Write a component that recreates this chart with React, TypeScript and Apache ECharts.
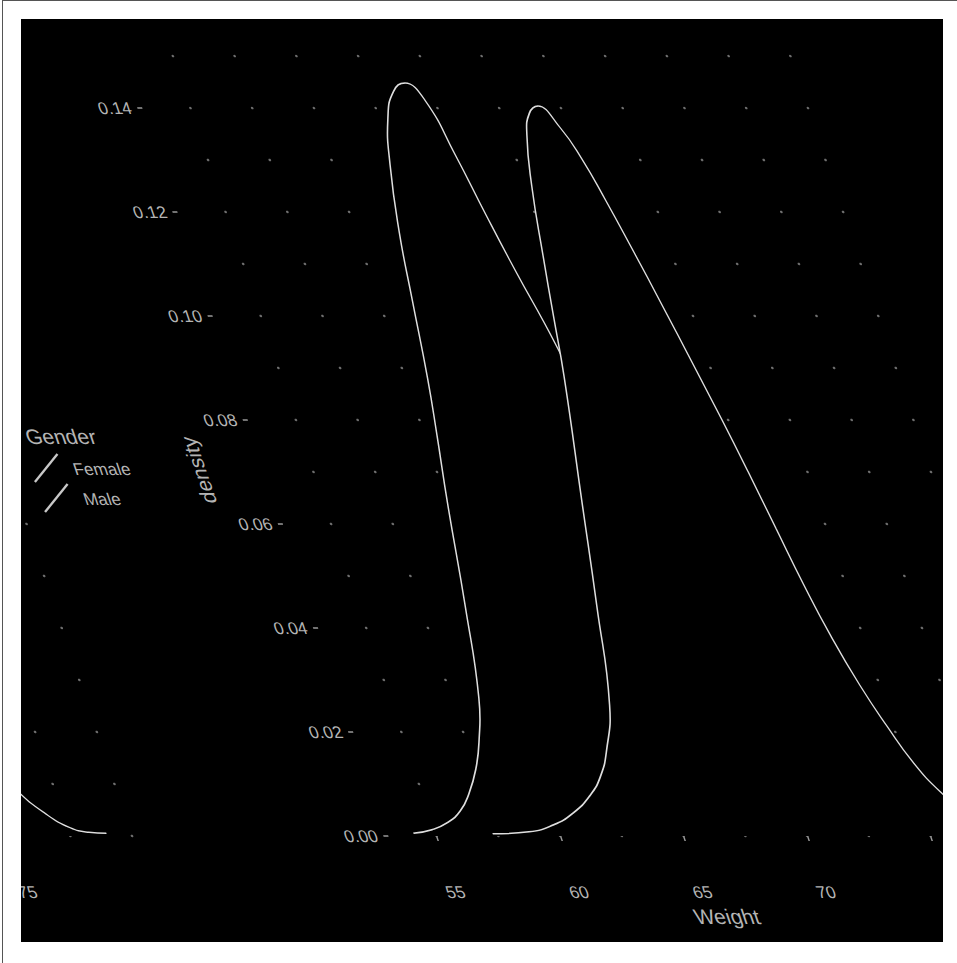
import React, { useEffect, useRef } from "react";
import * as echarts from "echarts";

// ---- data ----
const FEMALE_WEIGHT = [54.1, 54.9, 55.6, 56.3, 56.9, 57.5, 58.0, 58.6, 59.3, 60.0, 60.5, 60.9, 61.35, 61.75, 62.3, 62.85, 63.45, 64.03, 64.6, 65.08, 65.5, 65.96, 66.37, 66.63, 67.2, 68.0, 69.0, 70.0, 71.0, 72.0, 73.0, 74.0];
const FEMALE_DENSITY = [0.0005, 0.0012, 0.0025, 0.0048, 0.0082, 0.0128, 0.018, 0.0265, 0.044, 0.064, 0.077, 0.088, 0.103, 0.116, 0.129, 0.138, 0.1432, 0.1448, 0.1415, 0.131, 0.1195, 0.108, 0.099, 0.0925, 0.078, 0.06, 0.04, 0.024, 0.013, 0.006, 0.0025, 0.0008];

const MALE_WEIGHT = [57.3, 58.8, 59.87, 60.84, 61.75, 62.43, 63.04, 63.8, 64.64, 65.47, 66.45, 66.85, 67.25, 67.75, 68.25, 68.65, 69.1, 69.7, 70.15, 70.55, 70.95, 71.4, 71.85, 72.25, 72.6, 72.95, 73.3, 73.7, 74.2, 74.75, 75.3, 76.0, 76.8, 77.6, 78.3, 79.0];
const MALE_DENSITY = [0.0004, 0.0008, 0.0021, 0.0044, 0.0077, 0.0113, 0.0163, 0.0252, 0.0443, 0.0645, 0.0883, 0.1, 0.1115, 0.125, 0.1348, 0.139, 0.1404, 0.1362, 0.1302, 0.1222, 0.113, 0.102, 0.0905, 0.08, 0.07, 0.0592, 0.0485, 0.0385, 0.029, 0.021, 0.0142, 0.0085, 0.0043, 0.0016, 0.0007, 0.0005];

const X_TICKS = [55, 60, 65, 70, 75];
const Y_TICKS = [0, 0.02, 0.04, 0.06, 0.08, 0.1, 0.12, 0.14];
const X_GRID = [55, 57.5, 60, 62.5, 65, 67.5, 70, 72.5, 75, 77.5, 80];
const Y_GRID = [0, 0.01, 0.02, 0.03, 0.04, 0.05, 0.06, 0.07, 0.08, 0.09, 0.1, 0.11, 0.12, 0.13, 0.14, 0.15];
const X_RANGE = [53.05, 80.2];
const Y_RANGE = [-0.00724, 0.15204];

const GROUPS = ["Female", "Male"];
const LEGEND_TITLE = "Gender";
const X_TITLE = "Weight";
const Y_TITLE = "density";

// ---- look ----
const K = 0.338; // horizontal shear of the picture
const WRAP = 922; // width of the dark frame (content wraps around)
const FONT = "'Liberation Sans', Arial, sans-serif";
const TEXT = "#b4b4b4";
const LINE = "#dedede";

// wrap = false: main copy; wrap = true: copy shifted one frame width left,
// showing only what runs past the right edge of the frame.
function buildOption(wrap: boolean): any {
  const pairs = (xs: number[], ys: number[]) => xs.map((x, i) => [x, ys[i]]);
  const dots: number[][] = [];
  X_GRID.forEach((x) => Y_GRID.forEach((y) => dots.push([x, y])));
  const xLabelValues = wrap ? X_TICKS.slice(-1) : X_TICKS.slice(0, -1);

  const lineSeries = (name: string, data: number[][], z: number) => ({
    type: "line",
    name,
    data,
    showSymbol: false,
    smooth: 0.5,
    lineStyle: { color: LINE, width: 1.5 },
    areaStyle: { color: "#000", opacity: 1 },
    z,
    silent: true,
  });

  const series: any[] = [
    {
      type: "scatter",
      data: dots,
      symbol: "circle",
      symbolSize: 2.6,
      itemStyle: { color: "#8a8a8a" },
      silent: true,
      z: 1,
    },
  ];
  if (!wrap) series.push(lineSeries(GROUPS[0], pairs(FEMALE_WEIGHT, FEMALE_DENSITY), 2));
  series.push(lineSeries(GROUPS[1], pairs(MALE_WEIGHT, MALE_DENSITY), 3));

  const graphic: any[] = wrap
    ? [
        {
          type: "text",
          x: 800,
          y: 437,
          style: { text: LEGEND_TITLE, fill: TEXT, fontSize: 21, fontFamily: FONT, align: "left", verticalAlign: "middle" },
        },
        ...GROUPS.flatMap((g, i) => {
          const cy = 468 + i * 30;
          return [
            {
              type: "line",
              shape: { x1: 794, y1: cy + 14, x2: 826, y2: cy - 14 },
              style: { stroke: "#c8c8c8", lineWidth: 2 },
            },
            {
              type: "text",
              x: 837,
              y: cy + 1,
              style: { text: g, fill: TEXT, fontSize: 17, fontFamily: FONT, align: "left", verticalAlign: "middle" },
            },
          ];
        }),
      ]
    : [
        {
          type: "text",
          x: 40,
          y: 470,
          rotation: Math.PI / 2,
          style: { text: Y_TITLE, fill: TEXT, fontSize: 21, fontFamily: FONT, align: "center", verticalAlign: "middle" },
        },
        {
          type: "text",
          x: 417,
          y: 917,
          style: { text: X_TITLE, fill: TEXT, fontSize: 21, fontFamily: FONT, align: "center", verticalAlign: "middle" },
        },
      ];

  return {
    animation: false,
    backgroundColor: "transparent",
    textStyle: { fontFamily: FONT },
    grid: { left: 105.8, top: 45.4, width: 670.6, height: 828.2 },
    xAxis: {
      type: "value",
      min: X_RANGE[0],
      max: X_RANGE[1],
      axisLine: { show: false },
      splitLine: { show: false },
      axisTick: { show: true, customValues: X_TICKS, length: 5, lineStyle: { color: "#9a9a9a", width: 1.5 } },
      axisLabel: { customValues: xLabelValues, margin: 10, color: TEXT, fontSize: 17, fontFamily: FONT },
    },
    yAxis: {
      type: "value",
      min: Y_RANGE[0],
      max: Y_RANGE[1],
      axisLine: { show: false },
      splitLine: { show: false },
      axisTick: { show: !wrap, customValues: Y_TICKS, length: 5, lineStyle: { color: "#9a9a9a", width: 1.5 } },
      axisLabel: {
        show: !wrap,
        customValues: Y_TICKS,
        margin: 11,
        color: TEXT,
        fontSize: 17,
        fontFamily: FONT,
        formatter: (v: number) => v.toFixed(2),
      },
    },
    series,
    graphic,
  };
}

function ChartCopy({ offset, wrap }: { offset: number; wrap: boolean }) {
  const ref = useRef<HTMLDivElement>(null);
  useEffect(() => {
    if (!ref.current) return;
    const chart = echarts.init(ref.current, null, { renderer: "svg" });
    chart.setOption(buildOption(wrap));
    return () => chart.dispose();
  }, [wrap]);
  return (
    <div
      ref={ref}
      style={{
        position: "absolute",
        left: -21 + offset,
        top: -19,
        width: 920,
        height: 963,
        transform: `skewX(${Math.atan(K)}rad)`,
        transformOrigin: "0 0",
      }}
    />
  );
}

export default function App() {
  return (
    <div style={{ position: "absolute", left: 0, top: 0, width: 957, height: 963, background: "#fff", overflow: "hidden" }}>
      <div style={{ position: "absolute", left: 2, top: 0, width: 1, height: 963, background: "#555" }} />
      <div style={{ position: "absolute", left: 2, top: 0, width: 955, height: 1, background: "#555" }} />
      <div style={{ position: "absolute", left: 21, top: 19, width: WRAP, height: 923, background: "#000", overflow: "hidden" }}>
        <ChartCopy offset={0} wrap={false} />
        <ChartCopy offset={-WRAP} wrap={true} />
      </div>
    </div>
  );
}
